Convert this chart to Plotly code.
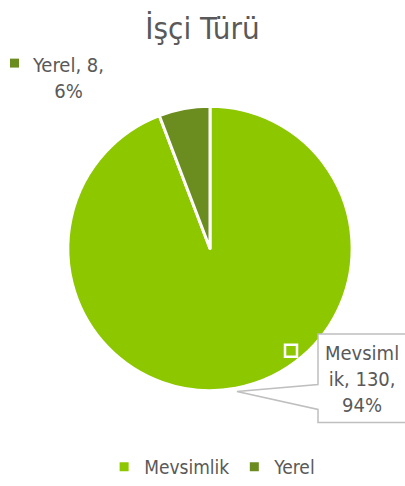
import plotly.graph_objects as go

categories = ["Mevsimlik", "Yerel"]
values = [130, 8]
colors = ["#8cc700", "#6b8c1e"]
FONT = "DejaVu Sans Condensed"
GRAY = "#595959"
BORDER = "#bfbfbf"

W, H = 405, 486
cx, cy, r = 210, 250, 143

fig = go.Figure()
fig.add_trace(go.Pie(
    labels=categories, values=values, sort=False, direction="clockwise", rotation=0,
    marker=dict(colors=colors, line=dict(color="white", width=3)),
    textinfo="none", hoverinfo="label+value+percent",
    domain=dict(x=[(cx - r) / W, (cx + r) / W], y=[(H - cy - r) / H, (H - cy + r) / H]),
))

total = sum(values)
pct = [round(v / total * 100) for v in values]


def px(x):
    return x / W


def py(y):
    return 1 - y / H


fig.update_layout(
    width=W, height=H, margin=dict(l=0, r=0, t=0, b=0),
    paper_bgcolor="white", plot_bgcolor="white",
    font=dict(family=FONT, color=GRAY),
    title=dict(text="İşçi Türü", x=0.5, xanchor="center", y=py(28), yanchor="middle",
               font=dict(family=FONT, size=31, color=GRAY)),
    legend=dict(orientation="h", x=0.525, xanchor="center", y=py(470), yanchor="middle",
                font=dict(family=FONT, size=19, color=GRAY)),
    showlegend=True,
)

# Yerel data label (top-left) with key
fig.add_annotation(x=px(68), y=py(78), xref="paper", yref="paper", xanchor="center", yanchor="middle",
                   text=f"{categories[1]}, {values[1]},<br>{pct[1]}%", showarrow=False,
                   font=dict(family=FONT, size=20, color=GRAY), align="center")
fig.add_shape(type="rect", xref="paper", yref="paper",
              x0=px(10), x1=px(19), y0=py(68), y1=py(59),
              fillcolor=colors[1], line=dict(width=0))

# Mevsimlik callout box with pointer
path = (f"M {px(318)},{py(336)} L {px(412)},{py(336)} L {px(412)},{py(425)} L {px(318)},{py(425)} "
        f"L {px(318)},{py(412)} L {px(237)},{py(394)} L {px(318)},{py(387)} Z")
fig.add_shape(type="path", xref="paper", yref="paper", path=path,
              fillcolor="white", line=dict(color=BORDER, width=1.5))
fig.add_annotation(x=px(362), y=py(381), xref="paper", yref="paper", xanchor="center", yanchor="middle",
                   text=f"Mevsiml<br>ik, {values[0]},<br>{pct[0]}%", showarrow=False,
                   font=dict(family=FONT, size=20, color=GRAY), align="center")
fig.add_shape(type="rect", xref="paper", yref="paper",
              x0=px(285), x1=px(297), y0=py(359), y1=py(347),
              fillcolor=colors[0], line=dict(color="white", width=2.5))

fig.write_html("out.html", config={"displayModeBar": False},
               post_script="document.body.style.margin='0';")
